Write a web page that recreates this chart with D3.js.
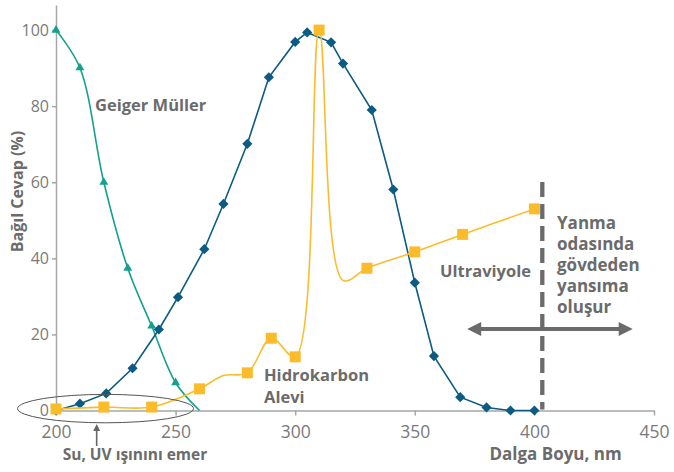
<!DOCTYPE html>
<html><head><meta charset="utf-8">
<script src="https://cdn.jsdelivr.net/npm/d3@7"></script>
<style>
html,body{margin:0;padding:0;background:#fff;}
svg{display:block;}
</style></head>
<body>
<script>
// ---- data ----
const xTicks = [200, 250, 300, 350, 400, 450];
const yTicks = [0, 20, 40, 60, 80, 100];

// Geiger Müller (teal, triangles)
const gmX = [200, 210, 220, 230, 240, 250, 260];
const gmY = [100, 90.1, 60, 37.4, 22.2, 7.3, 0];
const gmMarked = [1, 1, 1, 1, 1, 1, 0];

// Ultraviolet detector (blue, diamonds)
const uvX = [200, 210, 221, 232, 243, 251, 262, 270, 280, 289, 300, 305, 315, 320, 332, 341, 350, 358, 369, 380, 390, 400];
const uvY = [0, 1.8, 4.5, 11.1, 21.3, 29.8, 42.4, 54.3, 70.1, 87.6, 96.9, 99.4, 96.8, 91.2, 79.0, 58.1, 33.6, 14.3, 3.5, 0.8, 0, 0];

// Hydrocarbon flame (yellow, squares)
const hcX = [200, 220, 240, 260, 270, 280, 290, 300, 310, 320, 330, 350, 370, 400];
const hcY = [0.4, 0.9, 0.9, 5.7, 9.2, 9.9, 19, 14.1, 100, 34.2, 37.4, 41.7, 46.3, 53];
const hcMarked = [1, 1, 1, 1, 0, 1, 1, 1, 1, 0, 1, 1, 1, 1];

const W = 674, H = 472;
const FONT = "'Open Sans', 'DejaVu Sans', sans-serif";
const TEXT = "#6b6b6b";
const AXIS = "#a6a6a6";
const TEAL = "#14a08e", BLUE = "#0b5b82", YELLOW = "#fbbc2c";

const svg = d3.select("body").append("svg").attr("width", W).attr("height", H)
  .style("font-family", FONT);

const x = d3.scaleLinear().domain([200, 450]).range([56, 654]);
const y = d3.scaleLinear().domain([0, 106.6]).range([410.5, 5]);

// axes
const xAxis = svg.append("g").attr("transform", `translate(0,${y(0)})`)
  .call(d3.axisBottom(x).tickValues(xTicks).tickSize(5).tickSizeOuter(0).tickPadding(10));
const yAxis = svg.append("g").attr("transform", `translate(${x(200)},0)`)
  .call(d3.axisLeft(y).tickValues(yTicks).tickSize(4).tickSizeOuter(0).tickPadding(3));
[xAxis, yAxis].forEach(g => {
  g.selectAll("path, line").attr("stroke", AXIS).attr("stroke-width", 1.5);
  g.selectAll("text").attr("fill", "#7a7a7a").style("font-family", FONT);
});
xAxis.selectAll("text").attr("font-size", 17.5);
yAxis.selectAll("text").attr("font-size", 16);

// helpers
const zip = (xs, ys) => xs.map((v, i) => [v, ys[i]]);

// Geiger Müller
const gm = zip(gmX, gmY);
svg.append("path").datum(gm)
  .attr("d", d3.line().x(d => x(d[0])).y(d => y(d[1])).curve(d3.curveCatmullRom.alpha(0.5)))
  .attr("fill", "none").attr("stroke", TEAL).attr("stroke-width", 1.6);
svg.append("g").selectAll("path").data(gm.filter((d, i) => gmMarked[i]))
  .join("path")
  .attr("transform", d => `translate(${x(d[0])},${y(d[1])})`)
  .attr("d", d3.symbol(d3.symbolTriangle, 34))
  .attr("fill", TEAL);

// UV
const uv = zip(uvX, uvY);
svg.append("path").datum(uv)
  .attr("d", d3.line().x(d => x(d[0])).y(d => y(d[1])))
  .attr("fill", "none").attr("stroke", BLUE).attr("stroke-width", 1.6);
svg.append("g").selectAll("path").data(uv).join("path")
  .attr("transform", d => `translate(${x(d[0])},${y(d[1])}) rotate(45)`)
  .attr("d", d3.symbol(d3.symbolSquare, 52))
  .attr("fill", BLUE);

// Hydrocarbon
const hc = zip(hcX, hcY);
svg.append("path").datum(hc)
  .attr("d", d3.line().x(d => x(d[0])).y(d => y(d[1])).curve(d3.curveCatmullRom.alpha(0.5)))
  .attr("fill", "none").attr("stroke", YELLOW).attr("stroke-width", 1.6);
svg.append("g").selectAll("rect").data(hc.filter((d, i) => hcMarked[i])).join("rect")
  .attr("x", d => x(d[0]) - 5.5).attr("y", d => y(d[1]) - 5.5)
  .attr("width", 11).attr("height", 11)
  .attr("fill", YELLOW);

// ellipse around low-wavelength region
svg.append("ellipse")
  .attr("cx", x(220.7)).attr("cy", y(0.5))
  .attr("rx", 88).attr("ry", 14.2)
  .attr("fill", "none").attr("stroke", "#555").attr("stroke-width", 1);

// small arrow under ellipse
const ax = x(217);
svg.append("line").attr("x1", ax).attr("x2", ax).attr("y1", 430).attr("y2", 446)
  .attr("stroke", "#666").attr("stroke-width", 1.6);
svg.append("path").attr("d", `M${ax - 3.5},431 L${ax},424 L${ax + 3.5},431 Z`).attr("fill", "#666");

// dashed vertical line
svg.append("line")
  .attr("x1", x(403.3)).attr("x2", x(403.3))
  .attr("y1", 182).attr("y2", y(0) - 1)
  .attr("stroke", "#6b6b6b").attr("stroke-width", 4.3)
  .attr("stroke-dasharray", "15,7");

// double-headed arrow
const ay = y(21.4), a1 = x(371.9), a2 = x(441.1);
svg.append("line").attr("x1", a1 + 10).attr("x2", a2 - 10).attr("y1", ay).attr("y2", ay)
  .attr("stroke", "#6b6b6b").attr("stroke-width", 4);
svg.append("path").attr("d", `M${a1},${ay} L${a1 + 14},${ay - 7} L${a1 + 14},${ay + 7} Z`).attr("fill", "#6b6b6b");
svg.append("path").attr("d", `M${a2},${ay} L${a2 - 14},${ay - 7} L${a2 - 14},${ay + 7} Z`).attr("fill", "#6b6b6b");

// labels
function label(tx, ty, txt, opts = {}) {
  return svg.append("text").attr("x", tx).attr("y", ty).text(txt)
    .attr("fill", TEXT).attr("font-size", opts.size || 16.5).attr("font-weight", 700)
    .attr("text-anchor", opts.anchor || "start");
}
label(95, 111, "Geiger Müller");
label(264, 381, "Hidrokarbon");
label(264, 403, "Alevi");
label(440, 277, "Ultraviyole");
["Yanma", "odasında", "gövdeden", "yansıma", "oluşur"].forEach((t, i) => label(557, 228.5 + i * 21, t, { size: 17 }));
label(135, 460, "Su, UV ışınını emer", { anchor: "middle", size: 15.5 });
label(555.5, 460, "Dalga Boyu, nm", { anchor: "middle", size: 17 });
svg.append("text").attr("transform", "translate(23,191.5) rotate(-90)")
  .attr("text-anchor", "middle").attr("fill", TEXT).attr("font-size", 16).attr("font-weight", 700)
  .text("Bağıl Cevap (%)");
</script>
</body></html>
